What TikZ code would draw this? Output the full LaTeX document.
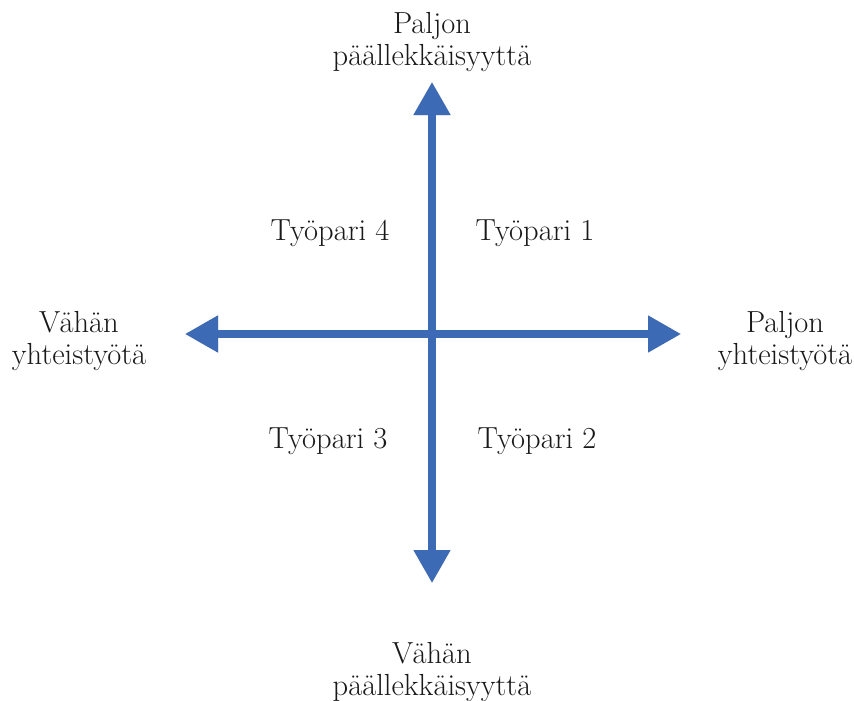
\documentclass[tikz,border=0pt]{standalone}
\usetikzlibrary{arrows.meta}
\definecolor{axisblue}{RGB}{60,106,180}
\definecolor{shadowgray}{RGB}{195,195,195}
\begin{document}
\begin{tikzpicture}[x=1pt,y=1pt,
  axis/.style={line width=7.5pt, color=axisblue, -{Triangle[length=33pt,width=35pt]}},
  axisshadow/.style={line width=7.5pt, color=shadowgray, -{Triangle[length=33pt,width=35pt]}},
  lbl/.style={font=\fontsize{30.5}{32}\selectfont, align=center, inner sep=0pt, text=black!90}]
\useasboundingbox (0,0) rectangle (854,-701);
\fill[white] (0,0) rectangle (854,-701);
\coordinate (c) at (432,-334);
\coordinate (top) at (432,-82);
\coordinate (bot) at (432,-583);
\coordinate (lft) at (185,-334);
\coordinate (rgt) at (681,-334);
% shadows
\begin{scope}[shift={(3,-4)}]
  \draw[axisshadow] (c) -- (top);
  \draw[axisshadow] (c) -- (bot);
  \draw[axisshadow] (c) -- (lft);
  \draw[axisshadow] (c) -- (rgt);
\end{scope}
% axes
\draw[axis] (c) -- (top);
\draw[axis] (c) -- (bot);
\draw[axis] (c) -- (lft);
\draw[axis] (c) -- (rgt);
% labels
\node[lbl] (ltop) at (432,-42) {Paljon\\päällekkäisyyttä};
\node[lbl] (lbot) at (432,-672) {Vähän\\päällekkäisyyttä};
\node[lbl] (llft) at (79,-341) {Vähän\\yhteistyötä};
\node[lbl] (lrgt) at (785,-341) {Paljon\\yhteistyötä};
\node[lbl] (q4) at (330,-233) {Työpari 4};
\node[lbl] (q1) at (535,-233) {Työpari 1};
\node[lbl] (q3) at (328,-441) {Työpari 3};
\node[lbl] (q2) at (537,-441) {Työpari 2};
\end{tikzpicture}
\end{document}
